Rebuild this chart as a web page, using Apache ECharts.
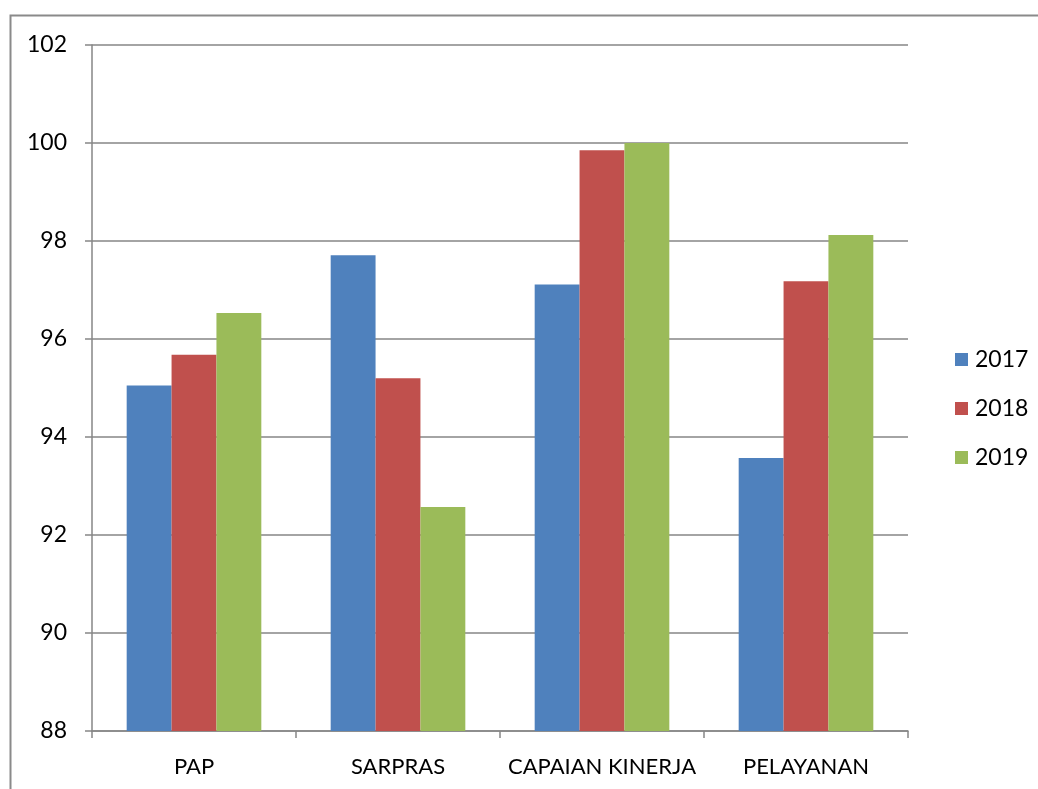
<!DOCTYPE html>
<html>
<head>
<meta charset="utf-8">
<script src="https://cdn.jsdelivr.net/npm/echarts@6/dist/echarts.min.js"></script>
<style>
html, body { margin: 0; padding: 0; background: #fff; }
#chart { width: 1038px; height: 789px; }
</style>
</head>
<body>
<div id="chart"></div>
<script>
// categories and values
const categories = ['PAP', 'SARPRAS', 'CAPAIAN KINERJA', 'PELAYANAN'];
const years = ['2017', '2018', '2019'];
const v2017 = [95.05, 97.71, 97.11, 93.57];
const v2018 = [95.68, 95.2, 99.85, 97.18];
const v2019 = [96.53, 92.57, 100.0, 98.12];
const yTicks = [88, 90, 92, 94, 96, 98, 100, 102];

const colors = ['#4F81BD', '#C0504D', '#9BBB59'];
const font = 'Lato, "Open Sans", sans-serif';

let myChart = echarts.init(document.getElementById('chart'));

function barSeries(name, data, color) {
    return {
        name: name,
        type: 'bar',
        data: data,
        barGap: '0%',
        barCategoryGap: '34%',
        itemStyle: { color: color },
        animation: false
    };
}

myChart.setOption({
    color: colors,
    graphic: [{
        // outer chart frame
        type: 'rect',
        shape: { x: 10.5, y: 15.5, width: 1200, height: 1000 },
        style: { fill: 'none', stroke: '#8a8a8a', lineWidth: 2 },
        silent: true
    }],
    grid: {
        left: 92,
        right: 130,
        top: 45,
        bottom: 58
    },
    legend: {
        orient: 'vertical',
        left: 950,
        top: 343,
        itemWidth: 13,
        itemHeight: 13,
        itemGap: 26,
        icon: 'rect',
        textStyle: { fontFamily: font, fontSize: 23, color: '#000', padding: [0, 0, 0, 2] },
        data: years
    },
    xAxis: {
        type: 'category',
        data: categories,
        axisLine: { lineStyle: { color: '#868686', width: 1.5 } },
        axisTick: { show: true, interval: 0, length: 7, lineStyle: { color: '#868686', width: 1.5 } },
        axisLabel: { interval: 0, fontFamily: font, fontSize: 22, color: '#000', margin: 25 }
    },
    yAxis: {
        type: 'value',
        min: yTicks[0],
        max: yTicks[yTicks.length - 1],
        interval: 2,
        axisLine: { show: true, lineStyle: { color: '#868686', width: 1.5 } },
        axisTick: { show: true, length: 7, lineStyle: { color: '#868686', width: 1.5 } },
        splitLine: { lineStyle: { color: '#868686', width: 1.5 } },
        axisLabel: { fontFamily: font, fontSize: 23, color: '#000', margin: 25 }
    },
    series: [
        barSeries(years[0], v2017, colors[0]),
        barSeries(years[1], v2018, colors[1]),
        barSeries(years[2], v2019, colors[2])
    ]
});
</script>
</body>
</html>
